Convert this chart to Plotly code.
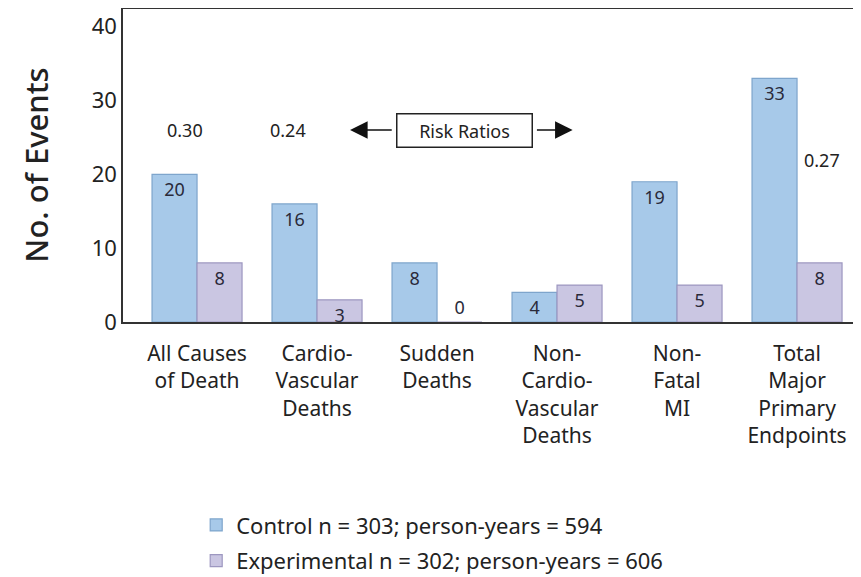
import plotly.graph_objects as go

categories = ["All Causes<br>of Death", "Cardio-<br>Vascular<br>Deaths", "Sudden<br>Deaths",
              "Non-<br>Cardio-<br>Vascular<br>Deaths", "Non-<br>Fatal<br>MI",
              "Total<br>Major<br>Primary<br>Endpoints"]
control = [20, 16, 8, 4, 19, 33]
experimental = [8, 3, 0, 5, 5, 8]
risk_labels = ["0.30", "0.24", "0.27"]
risk_pos = [(-0.1, 26), (0.76, 26), (5.21, 22)]
xpos = list(range(len(categories)))

FONT = "Noto Sans"
TXT = "#222"
fig = go.Figure()
fig.add_trace(go.Bar(
    x=xpos, y=control, name="Control n = 303; person-years = 594",
    legendgroup="c",
    marker=dict(color="#a7c9e9", line=dict(color="#7ea5cc", width=1.2)),
    text=[str(v) for v in control], textposition="inside", insidetextanchor="end",
    constraintext="none",
    textfont=dict(family=FONT, size=18, color="#2a2a3a"), textangle=0,
))
fig.add_trace(go.Bar(
    x=xpos, y=experimental, name="Experimental n = 302; person-years = 606",
    legendgroup="e",
    marker=dict(color="#cac6e2", line=dict(color="#9d97c0", width=1.2)),
    text=[str(v) for v in experimental],
    textposition=["inside" if v > 0 else "outside" for v in experimental],
    insidetextanchor="end", constraintext="none",
    textfont=dict(family=FONT, size=18, color="#2a2a3a"), textangle=0,
    cliponaxis=False,
))

annotations = []
for lab, (x, y) in zip(risk_labels, risk_pos):
    annotations.append(dict(x=x, y=y, xref="x", yref="y", text=lab, showarrow=False,
                            font=dict(family=FONT, size=18, color=TXT)))
annotations.append(dict(x=2.23, y=26, xref="x", yref="y", text="Risk Ratios", showarrow=False,
                        font=dict(family=FONT, size=18, color=TXT),
                        bordercolor="#222", borderwidth=1.5, width=130, height=28, borderpad=2,
                        bgcolor="white"))
annotations.append(dict(x=1.275, y=26, ax=1.635, ay=26, xref="x", yref="y", axref="x", ayref="y",
                        text="", showarrow=True, arrowhead=2, arrowsize=2.2, arrowwidth=1.6,
                        arrowcolor="#111"))
annotations.append(dict(x=3.13, y=26, ax=2.82, ay=26, xref="x", yref="y", axref="x", ayref="y",
                        text="", showarrow=True, arrowhead=2, arrowsize=2.2, arrowwidth=1.6,
                        arrowcolor="#111"))
annotations.append(dict(x=-0.12, y=0.5, xref="paper", yref="paper", text="No. of Events",
                        textangle=-90, showarrow=False, xanchor="center", yanchor="middle",
                        font=dict(family=FONT, size=31, color=TXT, weight=500)))

# page body has an 8px margin; figure is sized/offset to compensate
fig.update_layout(
    width=853, height=569,
    margin=dict(l=115, r=6, t=1, b=255, autoexpand=False),
    plot_bgcolor="white", paper_bgcolor="white",
    barmode="group", bargap=0.25, bargroupgap=0,
    font=dict(family=FONT, color=TXT),
    showlegend=True,
    legend=dict(x=0.1, y=-0.582, xanchor="left", yanchor="top", orientation="v",
                font=dict(family=FONT, size=22, color=TXT), tracegroupgap=4,
                bgcolor="rgba(0,0,0,0)"),
    annotations=annotations,
    xaxis=dict(range=[-0.617, 5.483], tickvals=xpos, ticktext=categories, automargin=False,
               tickfont=dict(family=FONT, size=21, color=TXT), ticklabelstandoff=12,
               showline=True, linecolor="#333", linewidth=1.5, mirror=True,
               showgrid=False, zeroline=False, ticks=""),
    yaxis=dict(range=[0, 42.4], tickvals=[0, 10, 20, 30, 40], automargin=False,
               tickfont=dict(family=FONT, size=22, color=TXT),
               showline=True, linecolor="#333", linewidth=1.5, mirror=True,
               showgrid=False, zeroline=False, ticks="", ticklen=0),
)
fig.write_html("out.html")
